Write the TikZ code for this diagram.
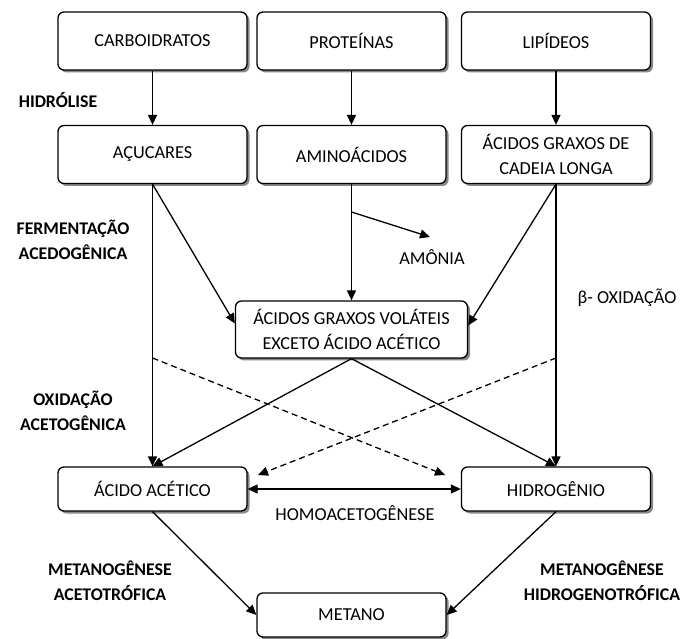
\documentclass[tikz,border=0pt]{standalone}
\usepackage{fontspec}
\setmainfont{Carlito}
\usetikzlibrary{arrows.meta,shadows}

\begin{document}
\begin{tikzpicture}[x=1pt, y=-1pt, >={Triangle[length=10pt,width=9pt]},
  line width=1.3pt, font=\fontsize{18.3}{25}\selectfont,
  box/.style={draw, rounded corners=6pt, fill=white, align=center, inner sep=0pt,
    drop shadow={shadow xshift=2.5pt, shadow yshift=-2.5pt, fill=black!55, opacity=0.85}},
  wide/.style={box, minimum width=189pt, minimum height=58pt},
  low/.style={box, minimum width=189pt, minimum height=44pt},
  stage/.style={font=\fontsize{17.8}{25}\selectfont\bfseries, align=center}]
  \useasboundingbox (0,0) rectangle (689,639);
  % Nodes
  \node[wide] (carb)  at (152.5,41)  {CARBOIDRATOS};
  \node[wide] (prot)  at (351.5,41)  {PROTEÍNAS};
  \node[wide] (lip)   at (556,41)    {LIPÍDEOS};
  \node[wide] (acuc)  at (152.5,154.5) {AÇUCARES};
  \node[wide] (amino) at (351.5,154.5) {AMINOÁCIDOS};
  \node[wide] (agcl)  at (556,154.5)   {ÁCIDOS GRAXOS DE\\CADEIA LONGA};
  \node[box, minimum width=232pt, minimum height=57pt] (agv) at (351.5,329.5)
    {ÁCIDOS GRAXOS VOLÁTEIS\\EXCETO ÁCIDO ACÉTICO};
  \node[low] (acet)   at (152.5,489) {ÁCIDO ACÉTICO};
  \node[low] (hidro)  at (556,489)   {HIDROGÊNIO};
  \node[low] (metano) at (351.5,615) {METANO};
  % Stage labels
  \node[stage] (hidrol) at (58,100)  {HIDRÓLISE};
  \node[stage] (ferm)   at (73,240)  {FERMENTAÇÃO\\ACEDOGÊNICA};
  \node[stage] (oxid)   at (73,411)  {OXIDAÇÃO\\ACETOGÊNICA};
  \node[stage] (macet)  at (110,581) {METANOGÊNESE\\ACETOTRÓFICA};
  \node[stage] (mhidro) at (602,581) {METANOGÊNESE\\HIDROGENOTRÓFICA};
  \node (beta)   at (627,298) {β- OXIDAÇÃO};
  \node (amonia) at (432,257) {AMÔNIA};
  \node (homo)   at (355,513) {HOMOACETOGÊNESE};
  % Free ends
  \coordinate (amBranch) at (351.5,212);
  \coordinate (amTip) at (430,237);
  \coordinate (dLs) at (152.5,358);
  \coordinate (dLe) at (445,475);
  \coordinate (dRs) at (556,358);
  \coordinate (dRe) at (258,475);
  % Hydrolysis
  \draw[->] (carb) -- (acuc);
  \draw[->] (prot) -- (amino);
  \draw[->] (lip) -- (agcl);
  % Acidogenesis
  \draw[->] (acuc) -- (acet);
  \draw[->] (acuc.south) -- ([yshift=6pt]agv.west);
  \draw[->] (amino) -- (agv);
  \draw[->] (amBranch) -- (amTip);
  \draw[->] (agcl.south) -- ([yshift=4pt]agv.east);
  \draw[->] (agcl) -- (hidro);
  % Acetogenesis
  \draw[->] (agv.south) -- (acet.north);
  \draw[->] (agv.south) -- (hidro.north);
  \draw[->,dash pattern=on 6pt off 4pt] (dLs) -- (dLe);
  \draw[->,dash pattern=on 6pt off 4pt] (dRs) -- (dRe);
  \draw[<->] (acet) -- (hidro);
  % Methanogenesis
  \draw[->] (acet.south) -- (metano.west);
  \draw[->] (hidro.south) -- (metano.east);
\end{tikzpicture}
\end{document}
